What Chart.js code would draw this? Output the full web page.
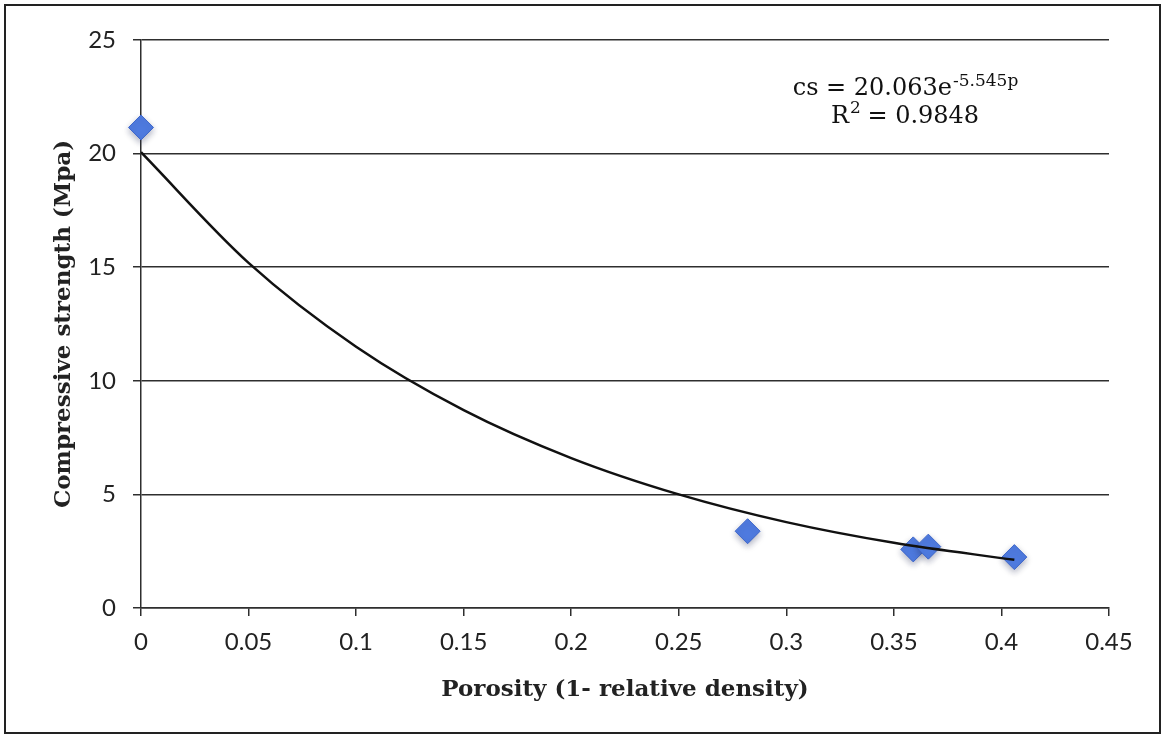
<!DOCTYPE html>
<html>
<head>
<meta charset="utf-8">
<script src="https://cdn.jsdelivr.net/npm/chart.js@4"></script>
<style>
  body { margin: 0; background: #fff; }
  #wrap { width: 1162px; height: 738px; }
</style>
</head>
<body>
<div id="wrap"><canvas id="chart" width="1162" height="738"></canvas></div>
<script>
// measured points
const porosity = [0, 0.282, 0.359, 0.366, 0.406];
const strength = [21.15, 3.38, 2.58, 2.7, 2.24];

// trendline
const trendX = [0, 0.05, 0.1, 0.15, 0.2, 0.25, 0.3, 0.35, 0.406];
const trendY = [20.06, 15.19, 11.5, 8.71, 6.6, 5.0, 3.78, 2.87, 2.12];

const xTicks = [0, 0.05, 0.1, 0.15, 0.2, 0.25, 0.3, 0.35, 0.4, 0.45];
const yTicks = [0, 5, 10, 15, 20, 25];

const eqLine1 = 'cs = 20.063e';
const eqSup1 = '-5.545p';
const eqLine2a = 'R';
const eqSup2 = '2';
const eqLine2b = ' = 0.9848';

const dark = '#2e2e2e';
const tickFont = { family: 'Lato', size: 24 };
const titleFont = { family: 'DejaVu Serif', size: 23, weight: 'bold' };

const extras = {
  id: 'extras',
  beforeDatasetDraw(chart, args) {
    if (args.index === 1) {
      const c = chart.ctx;
      c.save();
      c.shadowColor = 'rgba(40,50,90,0.35)';
      c.shadowBlur = 6;
      c.shadowOffsetY = 3;
    }
  },
  afterDatasetDraw(chart, args) {
    if (args.index === 1) chart.ctx.restore();
  },
  afterDraw(chart) {
    const c = chart.ctx;
    c.save();
    c.strokeStyle = '#222';
    c.lineWidth = 2;
    c.strokeRect(5, 5, 1155, 728);

    // equation label
    c.fillStyle = '#111';
    c.textBaseline = 'alphabetic';
    const big = '24px "DejaVu Serif"';
    const small = '17px "DejaVu Serif"';
    const cx = 905;
    c.font = big;
    let w1 = c.measureText(eqLine1).width;
    c.font = small;
    let w2 = c.measureText(eqSup1).width;
    let x = cx - (w1 + w2) / 2;
    c.font = big;
    c.fillText(eqLine1, x, 95);
    c.font = small;
    c.fillText(eqSup1, x + w1 + 1, 86);

    c.font = big;
    let a = c.measureText(eqLine2a).width;
    let b = c.measureText(eqLine2b).width;
    c.font = small;
    let s = c.measureText(eqSup2).width;
    x = cx - (a + s + b) / 2;
    c.font = big;
    c.fillText(eqLine2a, x, 123);
    c.font = small;
    c.fillText(eqSup2, x + a + 1, 113);
    c.font = big;
    c.fillText(eqLine2b, x + a + s, 123);
    c.restore();
  }
};

new Chart(document.getElementById('chart').getContext('2d'), {
  type: 'scatter',
  data: {
    datasets: [
      {
        label: 'trend',
        data: trendX.map((p, i) => ({ x: p, y: trendY[i] })),
        showLine: true,
        borderColor: '#111',
        borderWidth: 2.5,
        pointRadius: 0,
        cubicInterpolationMode: 'monotone',
        order: 0
      },
      {
        label: 'Compressive strength',
        data: porosity.map((p, i) => ({ x: p, y: strength[i] })),
        pointStyle: 'rectRot',
        pointRadius: 12.5,
        backgroundColor: '#4f7be0',
        borderColor: '#3d66c9',
        borderWidth: 1,
        clip: false,
        order: 1
      }
    ]
  },
  options: {
    responsive: false,
    animation: false,
    layout: { padding: { left: 10, top: 40, right: 53, bottom: 0 } },
    plugins: { legend: { display: false }, tooltip: { enabled: false } },
    scales: {
      x: {
        type: 'linear',
        min: 0,
        max: 0.45,
        afterBuildTicks: s => { s.ticks = xTicks.map(v => ({ value: v })); },
        afterFit: s => { s.height = 130; },
        grid: { drawOnChartArea: false, color: dark, lineWidth: 1.5, tickLength: 8 },
        border: { color: dark, width: 1.5 },
        ticks: {
          font: tickFont,
          color: '#222',
          padding: 12,
          maxRotation: 0,
          callback: v => String(Number(v.toFixed(2)))
        },
        title: {
          display: true,
          text: 'Porosity (1- relative density)',
          font: titleFont,
          color: '#222',
          padding: { bottom: 34 }
        }
      },
      y: {
        min: 0,
        max: 25,
        afterBuildTicks: s => { s.ticks = yTicks.map(v => ({ value: v })); },
        afterFit: s => { s.width = 131; },
        grid: { color: dark, lineWidth: 1.5, tickLength: 8 },
        border: { color: dark, width: 1.5 },
        ticks: { font: tickFont, color: '#222', padding: 17 },
        title: {
          display: true,
          text: 'Compressive strength (Mpa)',
          font: titleFont,
          color: '#222',
          padding: { top: 40 }
        }
      }
    }
  },
  plugins: [extras]
});
</script>
</body>
</html>
